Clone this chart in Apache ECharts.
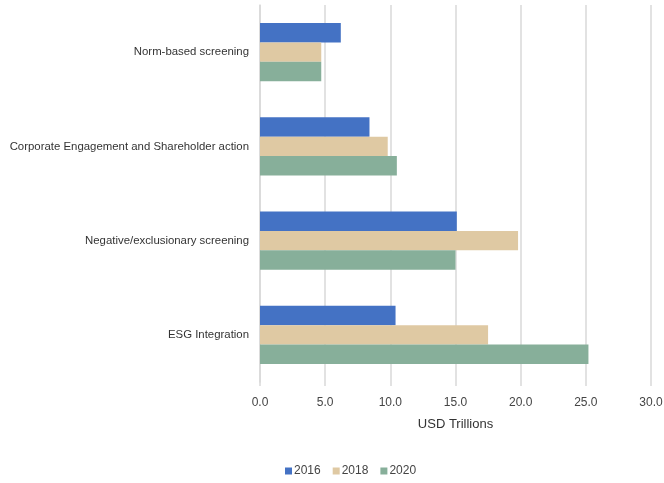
<!DOCTYPE html>
<html><head><meta charset="utf-8">
<script src="https://cdn.jsdelivr.net/npm/echarts@6/dist/echarts.min.js"></script>
<style>html,body{margin:0;padding:0;background:#fff}#c{width:664px;height:483px}</style>
</head><body><div id="c"></div>
<script>
const categories = ["Norm-based screening", "Corporate Engagement and Shareholder action", "Negative/exclusionary screening", "ESG Integration"];
const years = ["2016", "2018", "2020"];
const v2016 = [6.2, 8.4, 15.1, 10.4];
const v2018 = [4.7, 9.8, 19.8, 17.5];
const v2020 = [4.7, 10.5, 15.0, 25.2];
const colors = ["#4472C4", "#DFC9A3", "#87AF9A"];
const font = "'Liberation Sans Narrow', 'Arial Narrow', 'Liberation Sans', Arial, sans-serif";
const chart = echarts.init(document.getElementById('c'), null, {renderer: 'canvas'});
const vals = [v2016, v2018, v2020];
chart.setOption({
  animation: false,
  textStyle: {fontFamily: font},
  legend: {
    bottom: 1, left: 280, itemWidth: 7, itemHeight: 7, itemGap: 12,
    icon: 'rect',
    textStyle: {fontFamily: font, fontSize: 12, color: '#444', padding: [0, 0, 0, -3]},
    data: years
  },
  grid: {left: 260, right: 13, top: 5, height: 377, containLabel: false, outerBoundsMode: 'none'},
  xAxis: {
    type: 'value', min: 0, max: 30, interval: 5,
    name: 'USD Trillions', nameLocation: 'middle', nameGap: 36,
    nameTextStyle: {fontFamily: font, fontSize: 13, color: '#333'},
    axisLabel: {formatter: v => v.toFixed(1), fontFamily: font, fontSize: 12, color: '#444', margin: 15},
    axisLine: {show: false},
    axisTick: {show: true, length: 4, lineStyle: {color: '#d9d9d9', width: 1.5}},
    splitLine: {show: true, lineStyle: {color: '#d9d9d9', width: 1.5}}
  },
  yAxis: {
    type: 'category', inverse: true, data: categories,
    axisLine: {show: true, lineStyle: {color: '#d9d9d9', width: 1.5}},
    axisTick: {show: false},
    axisLabel: {fontFamily: font, fontSize: 11.4, color: '#333', margin: 11}
  },
  series: years.map((y, i) => ({
    name: y, type: 'bar', data: vals[i],
    itemStyle: {color: colors[i]},
    barGap: '0%', barCategoryGap: '38%'
  }))
});
</script></body></html>
